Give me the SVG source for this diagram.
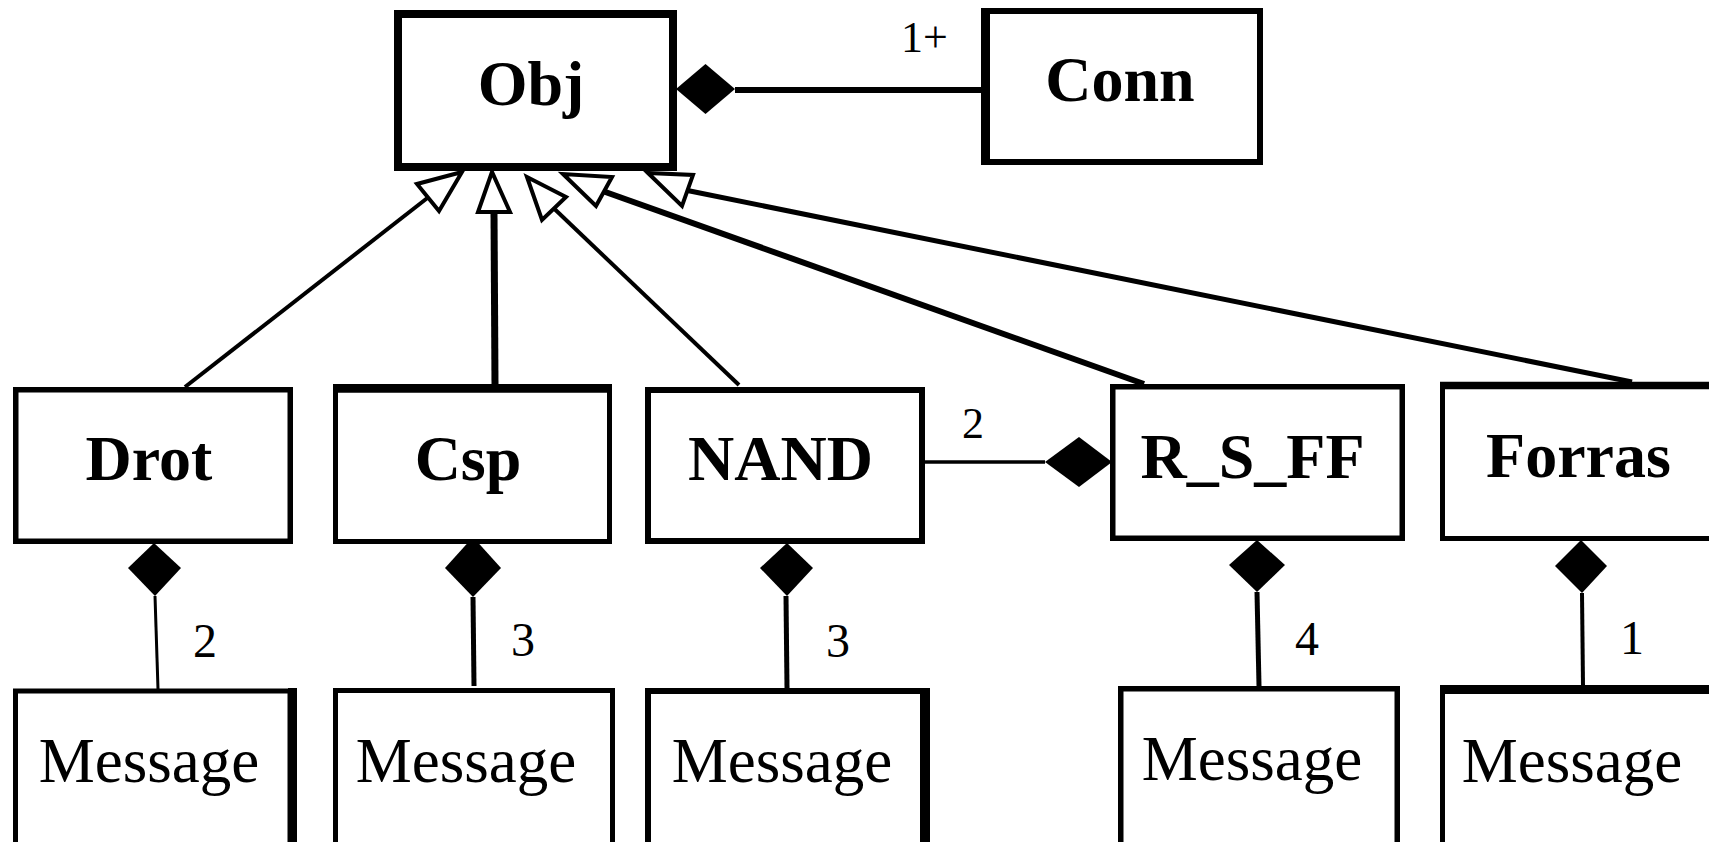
<svg xmlns="http://www.w3.org/2000/svg" width="1709" height="842" viewBox="0 0 1709 842">
<style>
.box{fill:#fff;stroke:#000}
.edge{stroke:#000;fill:none}
.t{font-family:"Liberation Serif","Times New Roman",serif;font-size:64px;font-weight:bold;text-anchor:middle;fill:#000}
.m{font-family:"Liberation Serif","Times New Roman",serif;font-size:63px;text-anchor:middle;fill:#000}
.lbl{font-family:"Liberation Serif","Times New Roman",serif;font-size:44px;fill:#000}
.lb2{font-family:"Liberation Serif","Times New Roman",serif;font-size:48px;fill:#000}
.dia{fill:#000;stroke:none}
.tri{fill:#fff;stroke:#000;stroke-width:4;stroke-linejoin:miter}
</style>
<rect width="1709" height="842" fill="#fff"/>
<g id="connectors">
  <line class="edge" x1="735" y1="90" x2="981" y2="90" stroke-width="6"/>
  <polygon class="dia" points="676,89 705.5,64 735,89 705.5,114"/>
  <line class="edge" x1="185" y1="387" x2="428" y2="197.5" stroke-width="4"/>
  <polygon class="tri" points="462,172 417,184 439,211"/>
  <line class="edge" x1="495" y1="385" x2="494" y2="212" stroke-width="7"/>
  <polygon class="tri" points="492,172 478,212 510,212"/>
  <line class="edge" x1="739" y1="385" x2="554" y2="208.5" stroke-width="4"/>
  <polygon class="tri" points="527,177 542,220 566,197"/>
  <line class="edge" x1="1144" y1="384" x2="604" y2="191.5" stroke-width="6"/>
  <polygon class="tri" points="563,174 596,206 612,177"/>
  <line class="edge" x1="1632" y1="382" x2="687.5" y2="190.5" stroke-width="5"/>
  <polygon class="tri" points="648,173 682,206 693,175"/>
  <line class="edge" x1="925" y1="462" x2="1045" y2="462" stroke-width="3.5"/>
  <polygon class="dia" points="1045,462 1079,437 1112,462 1079,487"/>
  <polygon class="dia" points="154,543 181,568 155,596 128,568"/>
  <line class="edge" x1="155" y1="596" x2="158" y2="689" stroke-width="3"/>
  <polygon class="dia" points="473,537 501,568 473,597 445,568"/>
  <line class="edge" x1="473" y1="597" x2="474" y2="686" stroke-width="5"/>
  <polygon class="dia" points="787,543 813,568 787,596 760,568"/>
  <line class="edge" x1="786" y1="596" x2="787" y2="688" stroke-width="5"/>
  <polygon class="dia" points="1257,540 1285,565 1257,592 1229,565"/>
  <line class="edge" x1="1257" y1="592" x2="1259" y2="686" stroke-width="5"/>
  <polygon class="dia" points="1581,540 1607,566 1582,593 1555,566"/>
  <line class="edge" x1="1582" y1="593" x2="1583" y2="686" stroke-width="4"/>
  <text class="lbl" x="901" y="52">1+</text>
  <text class="lbl" x="962" y="438">2</text>
  <text class="lb2" x="193" y="657">2</text>
  <text class="lb2" x="511" y="656">3</text>
  <text class="lb2" x="826" y="657">3</text>
  <text class="lb2" x="1295" y="655">4</text>
  <text class="lb2" x="1620" y="654">1</text>
</g>
<g id="obj">
  <rect class="box" x="398" y="14" width="275" height="153" stroke-width="8"/>
  <text class="t" x="531" y="105">Obj</text>
</g>
<g id="conn">
  <rect class="box" x="984" y="11" width="276" height="151" stroke-width="6"/>
  <line class="edge" x1="985.5" y1="8" x2="985.5" y2="165" stroke-width="9"/>
  <text class="t" x="1120" y="101">Conn</text>
</g>
<g id="drot">
  <rect class="box" x="15.75" y="389.75" width="274.5" height="151.5" stroke-width="5.5"/>
  <text class="t" x="149" y="480">Drot</text>
</g>
<g id="csp">
  <rect class="box" x="335.5" y="389" width="274" height="152.5" stroke-width="5"/>
  <line class="edge" x1="333" y1="388.4" x2="612" y2="388.4" stroke-width="8.7"/>
  <text class="t" x="468" y="480">Csp</text>
</g>
<g id="nand">
  <rect class="box" x="648" y="390" width="274" height="151" stroke-width="6"/>
  <text class="t" x="780.5" y="480">NAND</text>
</g>
<g id="rsff">
  <rect class="box" x="1112.75" y="386.75" width="289.5" height="151.5" stroke-width="5.5"/>
  <text class="t" x="1252.5" y="478">R_S_FF</text>
</g>
<g id="forras">
  <rect class="box" x="1442.5" y="385.5" width="300" height="153" stroke-width="5"/>
  <line class="edge" x1="1440" y1="385.5" x2="1709" y2="385.5" stroke-width="7.5"/>
  <text class="t" x="1578.5" y="477">Forras</text>
</g>
<g id="msg1">
  <rect class="box" x="15.5" y="691" width="274.5" height="200" stroke-width="5"/>
  <line class="edge" x1="292.5" y1="688" x2="292.5" y2="842" stroke-width="9"/>
  <text class="m" x="149" y="782">Message</text>
</g>
<g id="msg2">
  <rect class="box" x="335.5" y="690.5" width="277" height="200" stroke-width="5"/>
  <text class="m" x="466" y="782">Message</text>
</g>
<g id="msg3">
  <rect class="box" x="648" y="691" width="275" height="200" stroke-width="6"/>
  <line class="edge" x1="926" y1="688" x2="926" y2="842" stroke-width="8"/>
  <text class="m" x="782" y="782">Message</text>
</g>
<g id="msg4">
  <rect class="box" x="1120.75" y="688.75" width="276.5" height="200" stroke-width="5.5"/>
  <text class="m" x="1252" y="780">Message</text>
</g>
<g id="msg5">
  <rect class="box" x="1442.5" y="689" width="300" height="200" stroke-width="5"/>
  <line class="edge" x1="1440" y1="689.5" x2="1709" y2="689.5" stroke-width="9"/>
  <text class="m" x="1572" y="782">Message</text>
</g>
</svg>
